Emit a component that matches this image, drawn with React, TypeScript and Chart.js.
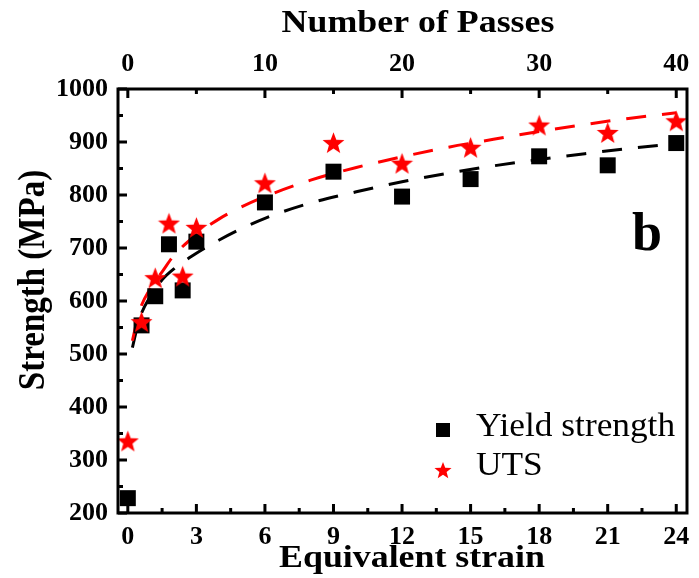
import React, { useEffect, useRef } from "react";
import { Chart, registerables } from "chart.js";
Chart.register(...registerables);

// ---- data ----
const strainPoints = [0, 0.6, 1.2, 1.8, 2.4, 3, 6, 9, 12, 15, 18, 21, 24];
const yieldStrength = [228, 554, 609, 707, 620, 712, 786, 844, 797, 830, 873, 856, 898];
const utsStrength = [336, 561, 644, 747, 647, 739, 823, 899, 860, 890, 932, 918, 940];

const fitStrain = [0.2, 0.5, 1, 1.5, 2, 3, 4, 5, 6, 8, 10, 12, 14, 16, 18, 20, 22, 24];
const yieldFit = [512, 565, 610, 640, 660, 690, 715, 737, 756, 785, 806, 825, 841, 855, 867, 878, 888, 897];
const utsFit = [525, 580, 625, 655, 685, 725, 755, 778, 797, 828, 852, 872, 890, 905, 920, 933, 945, 955];

const strainTicks = [0, 3, 6, 9, 12, 15, 18, 21, 24];
const strainMinorTicks = [1.5, 4.5, 7.5, 10.5, 13.5, 16.5, 19.5, 22.5];
const passTicks = [0, 10, 20, 30, 40];
const passMinorTicks = [5, 15, 25, 35];
const strengthTicks = [200, 300, 400, 500, 600, 700, 800, 900, 1000];
const strengthMinorTicks = [250, 350, 450, 550, 650, 750, 850, 950];

const STRAIN_PER_PASS = 0.6;
const X_MIN = -0.43;
const X_MAX = 24.47;

const SERIF = "'Liberation Serif', 'Times New Roman', serif";

function makeStar(size: number, color: string) {
  const c = document.createElement("canvas");
  c.width = size;
  c.height = size;
  const ctx = c.getContext("2d")!;
  const cx = size / 2;
  const cy = size / 2 + size * 0.05;
  const R = size / 2;
  const r = R * 0.42;
  ctx.beginPath();
  for (let i = 0; i < 10; i++) {
    const ang = -Math.PI / 2 + (i * Math.PI) / 5;
    const rad = i % 2 === 0 ? R : r;
    const px = cx + rad * Math.cos(ang);
    const py = cy + rad * Math.sin(ang);
    if (i === 0) ctx.moveTo(px, py);
    else ctx.lineTo(px, py);
  }
  ctx.closePath();
  ctx.fillStyle = color;
  ctx.fill();
  return c;
}

function stretchedText(ctx: CanvasRenderingContext2D, text: string, x: number, y: number, sx: number) {
  ctx.save();
  ctx.translate(x, y);
  ctx.scale(sx, 1);
  ctx.fillText(text, 0, 0);
  ctx.restore();
}

export default function App() {
  const ref = useRef<HTMLCanvasElement | null>(null);

  useEffect(() => {
    document.body.style.margin = "0";
    const canvas = ref.current!;
    const star = makeStar(23, "#ff0000");
    const legendStar = makeStar(18, "#ff0000");

    const framePlugin = {
      id: "framePlugin",
      afterDatasetsDraw(chart: any) {
        const ctx = chart.ctx as CanvasRenderingContext2D;
        const { left, right, top, bottom } = chart.chartArea;
        const xs = chart.scales.x;
        const xt = chart.scales.x2;
        const ys = chart.scales.y;
        ctx.save();
        ctx.strokeStyle = "#000";
        ctx.lineWidth = 3;
        ctx.strokeRect(left, top, right - left, bottom - top);
        ctx.beginPath();
        const major = 9;
        const minor = 5;
        strainTicks.forEach((v) => {
          const px = xs.getPixelForValue(v);
          ctx.moveTo(px, bottom);
          ctx.lineTo(px, bottom - major);
        });
        strainMinorTicks.forEach((v) => {
          const px = xs.getPixelForValue(v);
          ctx.moveTo(px, bottom);
          ctx.lineTo(px, bottom - minor);
        });
        passTicks.forEach((v) => {
          const px = xt.getPixelForValue(v);
          ctx.moveTo(px, top);
          ctx.lineTo(px, top + major);
        });
        passMinorTicks.forEach((v) => {
          const px = xt.getPixelForValue(v);
          ctx.moveTo(px, top);
          ctx.lineTo(px, top + minor);
        });
        strengthTicks.forEach((v) => {
          const py = ys.getPixelForValue(v);
          ctx.moveTo(left, py);
          ctx.lineTo(left + major, py);
        });
        strengthMinorTicks.forEach((v) => {
          const py = ys.getPixelForValue(v);
          ctx.moveTo(left, py);
          ctx.lineTo(left + minor, py);
        });
        ctx.stroke();

        // titles
        ctx.fillStyle = "#000";
        ctx.textAlign = "center";
        ctx.textBaseline = "alphabetic";
        ctx.font = `bold 32px ${SERIF}`;
        stretchedText(ctx, "Number of Passes", 418, 32, 1.12);
        stretchedText(ctx, "Equivalent strain", 412, 567, 1.12);
        ctx.save();
        ctx.translate(44, 280);
        ctx.rotate(-Math.PI / 2);
        ctx.scale(1, 1.15);
        ctx.font = `bold 33px ${SERIF}`;
        ctx.fillText("Strength (MPa)", 0, 0);
        ctx.restore();

        // panel label
        ctx.font = `bold 54px ${SERIF}`;
        ctx.textAlign = "left";
        ctx.fillText("b", 632, 250);

        // legend
        ctx.font = `33px ${SERIF}`;
        ctx.fillStyle = "#000";
        ctx.fillRect(436, 423, 14, 14);
        stretchedText(ctx, chart.data.datasets[0].label, 476, 436, 1.07);
        ctx.drawImage(legendStar, 443 - 9, 470 - 9);
        stretchedText(ctx, chart.data.datasets[1].label, 476, 475, 1.07);
        ctx.restore();
      },
    };

    const tickFont = { family: SERIF, weight: "bold" as const, size: 26 };
    const plain = (v: any) => String(v);

    const chart = new Chart(canvas, {
      type: "scatter",
      data: {
        datasets: [
          {
            label: "Yield strength",
            data: strainPoints.map((x, i) => ({ x, y: yieldStrength[i] })),
            pointStyle: "rect",
            pointRadius: 11.3,
            pointHoverRadius: 11.3,
            backgroundColor: "#000",
            borderColor: "#000",
            borderWidth: 0,
            showLine: false,
            clip: false,
            order: 1,
          },
          {
            label: "UTS",
            data: strainPoints.map((x, i) => ({ x, y: utsStrength[i] })),
            pointStyle: star as any,
            pointRadius: 11,
            backgroundColor: "#ff0000",
            borderColor: "#ff0000",
            showLine: false,
            clip: false,
            order: 0,
          },
          {
            label: "Yield fit",
            data: fitStrain.map((x, i) => ({ x, y: yieldFit[i] })),
            showLine: true,
            pointRadius: 0,
            borderColor: "#000",
            borderWidth: 3,
            borderDash: [20, 16],
            cubicInterpolationMode: "monotone",
            order: 3,
          },
          {
            label: "UTS fit",
            data: fitStrain.map((x, i) => ({ x, y: utsFit[i] })),
            showLine: true,
            pointRadius: 0,
            borderColor: "#ff0000",
            borderWidth: 3,
            borderDash: [20, 16],
            cubicInterpolationMode: "monotone",
            order: 2,
          },
        ],
      },
      options: {
        animation: false,
        responsive: false,
        maintainAspectRatio: false,
        layout: { padding: { left: 0, right: 7, top: 0, bottom: 0 } },
        plugins: { legend: { display: false }, tooltip: { enabled: false } },
        scales: {
          x: {
            type: "linear",
            position: "bottom",
            min: X_MIN,
            max: X_MAX,
            afterBuildTicks: (s: any) => {
              s.ticks = strainTicks.map((v) => ({ value: v }));
            },
            afterFit: (s: any) => {
              s.height = 65;
            },
            grid: { display: false, drawTicks: false },
            border: { display: false },
            ticks: { font: tickFont, color: "#000", padding: 9, maxRotation: 0, autoSkip: false, callback: plain },
          },
          x2: {
            type: "linear",
            position: "top",
            min: X_MIN / STRAIN_PER_PASS,
            max: X_MAX / STRAIN_PER_PASS,
            afterBuildTicks: (s: any) => {
              s.ticks = passTicks.map((v) => ({ value: v }));
            },
            afterFit: (s: any) => {
              s.height = 89;
            },
            grid: { display: false, drawTicks: false },
            border: { display: false },
            ticks: { font: tickFont, color: "#000", padding: 9, maxRotation: 0, autoSkip: false, callback: plain },
          },
          y: {
            type: "linear",
            position: "left",
            min: 200,
            max: 1000,
            afterBuildTicks: (s: any) => {
              s.ticks = strengthTicks.map((v) => ({ value: v }));
            },
            afterFit: (s: any) => {
              s.width = 118;
            },
            grid: { display: false, drawTicks: false },
            border: { display: false },
            ticks: { font: tickFont, color: "#000", padding: 10, autoSkip: false, callback: plain },
          },
        },
      } as any,
      plugins: [framePlugin],
    });

    return () => chart.destroy();
  }, []);

  return (
    <div style={{ width: 699, height: 578, background: "#fff" }}>
      <canvas ref={ref} width={699} height={578} style={{ display: "block" }} />
    </div>
  );
}
